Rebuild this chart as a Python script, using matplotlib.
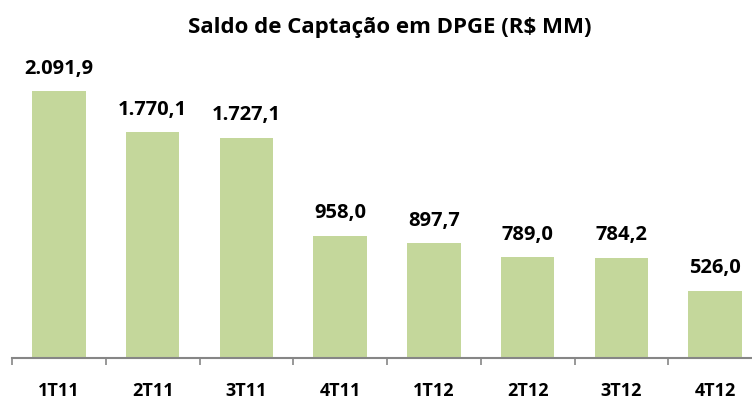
import matplotlib
matplotlib.use("Agg")
import matplotlib.pyplot as plt
import numpy as np

categories = ["1T11", "2T11", "3T11", "4T11", "1T12", "2T12", "3T12", "4T12"]
values = [2091.9, 1770.1, 1727.1, 958.0, 897.7, 789.0, 784.2, 526.0]
labels = ["2.091,9", "1.770,1", "1.727,1", "958,0", "897,7", "789,0", "784,2", "526,0"]
title = "Saldo de Captação em DPGE (R$ MM)"

plt.rcParams['font.family'] = ['Open Sans', 'DejaVu Sans']

fig = plt.figure(figsize=(7.52, 4.01), dpi=100)
W, H = 752, 401
ax = fig.add_axes([12 / W, (H - 358) / H, 750 / W, 319 / H])
x = np.arange(len(categories))
ax.bar(x, values, width=0.57, color="#C4D79B", zorder=2)
ax.set_xlim(-0.5, len(categories) - 0.5)
ax.set_ylim(0, 2500)

for xi, v, lab in zip(x, values, labels):
    ax.annotate(lab, (xi, v), xytext=(0, 9), textcoords="offset points",
                ha="center", va="bottom", fontsize=14.5, fontweight="bold", color="black")

for s in ["top", "right", "left"]:
    ax.spines[s].set_visible(False)
ax.spines["bottom"].set_color("#868686")
ax.spines["bottom"].set_linewidth(1.5)
ax.set_yticks([])
ax.set_xticks(np.arange(-0.5, len(categories) - 0.5 + 0.01, 1.0), minor=False)
ax.set_xticklabels([])
ax.tick_params(axis="x", which="major", length=5, width=1.2, color="#868686", direction="out")
ax.set_xticks(x, minor=True)
ax.set_xticklabels(categories, minor=True, fontsize=13, fontweight="bold")
ax.tick_params(axis="x", which="minor", length=0, pad=17)

fig.text(390 / W, 1 - 28 / H, title, ha="center", va="center", fontsize=16, fontweight="bold")

fig.savefig("out.png", dpi=100)
